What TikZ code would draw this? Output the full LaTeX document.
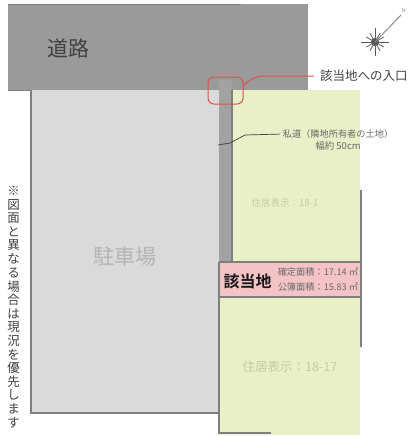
\documentclass[tikz,border=0pt]{standalone}
\usepackage{fontspec}
\setmainfont{Noto Sans CJK JP}
\newfontfamily\jpbold{Noto Sans CJK JP Bold}
\definecolor{roadgray}{HTML}{9A9A9A}
\definecolor{parkgray}{HTML}{DADADA}
\definecolor{alleygray}{HTML}{A2A2A2}
\definecolor{lotgreen}{HTML}{E9EFC6}
\definecolor{lotpink}{HTML}{F3C3C6}
\definecolor{edgegray}{HTML}{7F7F7F}
\definecolor{redline}{HTML}{D9534A}
\definecolor{faint}{HTML}{C4CAA8}
\definecolor{faintpark}{HTML}{B4B4B4}
\definecolor{smalltext}{HTML}{6A6A6A}
\tikzset{
  edge/.style={draw=edgegray,line width=1.1pt},
  plain/.style={inner sep=0pt,outer sep=0pt},
  smalllabel/.style={plain,font=\fontsize{9.2}{10}\selectfont,text=smalltext}
}
\begin{document}
\begin{tikzpicture}[x=1pt,y=-1pt]
\useasboundingbox (0,0) rectangle (409,436);
% parking
\fill[parkgray] (31,90) rectangle (219,413);
\draw[edge] (31,90) -- (31,413) -- (219,413);
% lots
\fill[lotgreen] (232,90) rectangle (360,262);
\fill[lotgreen] (219,297) rectangle (360,435);
% alley
\fill[alleygray] (218.5,90) rectangle (232,262);
\draw[edge] (232,90) -- (232,262);
% road
\fill[roadgray] (8,4) rectangle (308,90);
\draw[edge,line width=.8pt] (8,4) -- (241,4);
\draw[edge,line width=.8pt] (8,90) -- (31,90);
\fill[alleygray] (218.5,80) rectangle (232,90);
% target band
\fill[lotpink] (219,262) rectangle (361,297);
\draw[edge] (219,262) -- (361,262);
\draw[edge] (219,297) -- (361,297);
\draw[edge] (219,262) -- (219,433) -- (271,433);
\draw[edge] (361,190) -- (361,347);
% entrance marker
\node[plain,draw=redline,line width=1pt,rounded corners=6pt,minimum width=35pt,minimum height=27pt] (entry) at (225.5,90.5) {};
\node[plain,anchor=west,font=\fontsize{12.5}{13}\selectfont,text=black!75] (entrylabel) at (320,76) {該当地への入口};
\draw[redline,line width=1pt,shorten >=6pt] (entry.east) ++(0,-5) .. controls (249,81) and (255,76) .. (263,76) -- (entrylabel.west);
% alley leader
\coordinate (alleymid) at (218,145);
\node[smalllabel] (alleyA) at (338,134) {私道（隣地所有者の土地）};
\node[smalllabel,font=\fontsize{9.5}{10}\selectfont] (alleyB) at (338,146) {幅約 50cm};
\draw[black!75,line width=.7pt,shorten >=3pt] (alleymid) -- (230,143) -- (245,135) -- (alleyA.west);
% labels
\node[plain,font=\fontsize{21}{21}\selectfont,text=black!75] (road) at (68,48) {道路};
\node[plain,font=\fontsize{21}{21}\selectfont,text=faintpark] (park) at (125,257) {駐車場};
\node[plain,font=\fontsize{9.5}{10}\selectfont,text=faint] (addrA) at (285,203) {住居表示：18-1};
\node[plain,font=\fontsize{12.5}{13}\selectfont,text=faint] (addrB) at (290,367) {住居表示：18-17};
\node[plain,font=\fontsize{16}{16}\jpbold\selectfont,text=black!90] (target) at (247.5,281) {該当地};
\node[smalllabel,anchor=east] (areaA) at (358,272) {確定面積：17.14 ㎡};
\node[smalllabel,anchor=east] (areaB) at (358,287) {公簿面積：15.83 ㎡};
% vertical note
\foreach \c [count=\i from 0] in {※,図,面,と,異,な,る,場,合,は,現,況,を,優,先,し,ま,す}
  \node[plain,font=\fontsize{12.5}{13}\selectfont,text=black!75] at (13.5,{191+13.62*\i}) {\c};
% compass
\coordinate (north) at (375,42);
\foreach \a in {0,30,...,330}
  \draw[black!65,line width=.8pt] (north) -- ++(\a:{mod(\a,90)==0 ? 14 : 10});
\fill[black!65] (north) circle (4);
\draw[black!45,line width=1pt] (north) -- (401,15);
\node[plain,font=\fontsize{5}{5}\selectfont,text=black!50] (northmark) at (404,11) {N};
\end{tikzpicture}
\end{document}
